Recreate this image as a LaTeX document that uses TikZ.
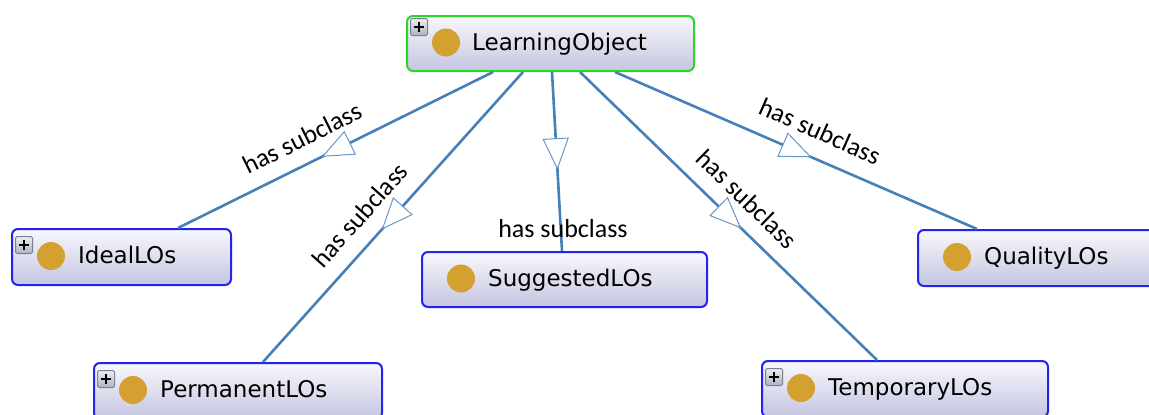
\documentclass[tikz,border=0pt]{standalone}
\usepackage{fontspec}
\newfontfamily\boxfont{DejaVu Sans}
\newfontfamily\lblfont{Carlito}
\usetikzlibrary{decorations.markings}
\definecolor{edgeblue}{RGB}{70,128,184}
\definecolor{triblue}{RGB}{105,150,200}
\definecolor{clsblue}{RGB}{35,35,235}
\definecolor{clsgreen}{RGB}{40,215,40}
\definecolor{gold}{RGB}{212,160,48}
\definecolor{boxtop}{RGB}{248,248,252}
\definecolor{boxbot}{RGB}{196,197,224}
\definecolor{plustop}{RGB}{238,238,242}
\definecolor{plusbot}{RGB}{172,178,190}
\definecolor{plusrim}{RGB}{120,130,150}
\begin{document}
\begin{tikzpicture}[x=1pt,y=-1pt,
  cls/.style={draw=clsblue, line width=2, rounded corners=6, top color=boxtop,
    bottom color=boxbot, inner sep=0, anchor=north west, minimum height=56},
  root/.style={cls, draw=clsgreen, minimum height=55},
  dot/.style={circle, fill=gold, minimum size=28, inner sep=0},
  clsname/.style={anchor=base west, inner sep=0, font=\boxfont\fontsize{23}{27}\selectfont},
  plusbox/.style={draw=plusrim, line width=1, rounded corners=1.5, top color=plustop,
    bottom color=plusbot, minimum size=17, inner sep=0, anchor=north west,
    path picture={\draw[black, line width=1.9]
      ([yshift=-3.5]path picture bounding box.north) -- ([yshift=3.5]path picture bounding box.south)
      ([xshift=3.5]path picture bounding box.west) -- ([xshift=-3.5]path picture bounding box.east);}},
  lbl/.style={inner sep=0, font=\lblfont\fontsize{26}{30}\selectfont},
  isa/.style={draw=edgeblue, line width=2.6, postaction={decorate},
    decoration={markings, mark=at position 0.54 with {
      \fill[white] (0,0) -- (-30,12.5) -- (-30,-12.5) -- cycle;
      \draw[triblue, line width=1, line join=miter] (0,0) -- (-30,12.5) -- (-30,-12.5) -- cycle;}}}
]
\useasboundingbox[fill=white] (0,0) rectangle (1149,415);

% root class
\node[root, minimum width=287] (LO) at (406,15) {};
\node[plusbox] (LOplus) at (410,18) {};
\node[dot] (LOdot) at (446,42.5) {};
\node[clsname] (LOname) at (472,50.3) {LearningObject};

% subclasses
\node[cls, minimum width=219] (Ideal) at (11,228) {};
\node[plusbox] (Idealplus) at (15,236) {};
\node[dot] (Idealdot) at (51,256) {};
\node[clsname] (Idealname) at (78,263.8) {IdealLOs};

\node[cls, minimum width=288] (Perm) at (93,362) {};
\node[plusbox] (Permplus) at (97,370) {};
\node[dot] (Permdot) at (133,390) {};
\node[clsname] (Permname) at (160,397.8) {PermanentLOs};

\node[cls, minimum width=285, minimum height=55] (Sugg) at (421,251) {};
\node[dot] (Suggdot) at (461,278.5) {};
\node[clsname] (Suggname) at (488,286.3) {SuggestedLOs};

\node[cls, minimum width=245] (Qual) at (917,229) {};
\node[dot] (Qualdot) at (957,257) {};
\node[clsname] (Qualname) at (984,264.8) {QualityLOs};

\node[cls, minimum width=286] (Temp) at (761,360) {};
\node[plusbox] (Tempplus) at (765,368) {};
\node[dot] (Tempdot) at (801,388) {};
\node[clsname] (Tempname) at (828,395.8) {TemporaryLOs};

% subclass connectors
\draw[isa] ([xshift=-57.5]LO.south) -- ([xshift=56.5]Ideal.north);
\draw[isa] ([xshift=-27.5]LO.south) -- ([xshift=25]Perm.north);
\draw[isa] ([xshift=1.5]LO.south) -- ([xshift=-2.5]Sugg.north);
\draw[isa] ([xshift=29.5]LO.south) -- ([xshift=-28]Temp.north);
\draw[isa] ([xshift=64.5]LO.south) -- ([xshift=-63.5]Qual.north);

% connector labels
\node[lbl, rotate=26.5] (l1) at (302,138) {has subclass};
\node[lbl, rotate=48.3] (l2) at (360,215) {has subclass};
\node[lbl] (l3) at (563,229) {has subclass};
\node[lbl, rotate=-44.3] (l4) at (747,199) {has subclass};
\node[lbl, rotate=-23.8] (l5) at (820,131) {has subclass};
\end{tikzpicture}
\end{document}
